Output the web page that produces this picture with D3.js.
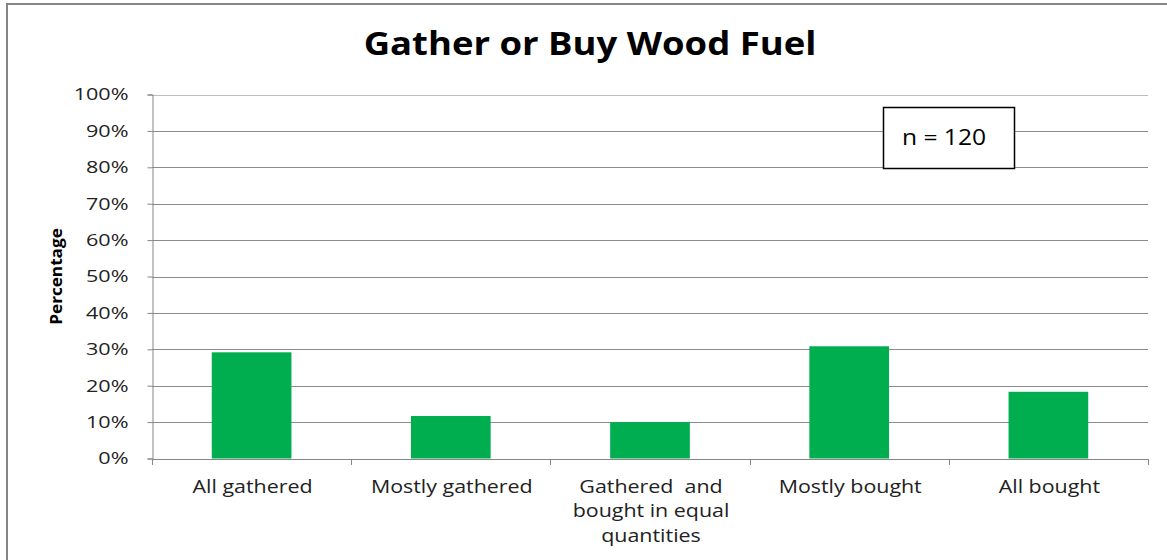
<!DOCTYPE html>
<html><head><meta charset="utf-8">
<script src="https://d3js.org/d3.v7.min.js"></script>
<style>body{margin:0;background:#fff;} svg{display:block;}</style>
</head><body>
<script>
const categories = [["All gathered"], ["Mostly gathered"], ["Gathered  and", "bought in equal", "quantities"], ["Mostly bought"], ["All bought"]];
const values = [29.17, 11.67, 10.0, 30.83, 18.33];
const yTicks = [0, 10, 20, 30, 40, 50, 60, 70, 80, 90, 100];
const title = "Gather or Buy Wood Fuel";
const yLabel = "Percentage";
const note = "n = 120";

(function () {
const W = 1167, H = 560;
const font = "'Open Sans', sans-serif";
const svg = d3.select("body").append("svg").attr("width", W).attr("height", H);
svg.append("rect").attr("x", 7).attr("y", 4).attr("width", W).attr("height", H)
  .attr("fill", "#fff").attr("stroke", "#868686").attr("stroke-width", 2);

const pLeft = 152, pRight = 1148, pTop = 94.5, pBottom = 458.5;
const keys = categories.map((d, i) => i);
const x = d3.scaleBand().domain(keys).range([pLeft, pRight]).paddingInner(0.6).paddingOuter(0.3);
const y = d3.scaleLinear().domain([0, 100]).range([pBottom, pTop]);

svg.append("g").selectAll("line").data(yTicks.filter(t => t > 0)).join("line")
  .attr("x1", pLeft).attr("x2", pRight)
  .attr("y1", d => Math.round(y(d)) + 0.5).attr("y2", d => Math.round(y(d)) + 0.5)
  .attr("stroke", d => d === 100 ? "#bdbdbd" : "#8c8c8c").attr("stroke-width", 1);

svg.append("g").selectAll("rect").data(values).join("rect")
  .attr("x", (d, i) => x(i)).attr("width", x.bandwidth())
  .attr("y", d => y(d)).attr("height", d => y(0) - y(d))
  .attr("fill", "#00ae4f");

const yAxis = d3.axisLeft(y).tickValues(yTicks).tickFormat(d => d + "%").tickSize(5).tickPadding(19);
const gy = svg.append("g").attr("transform", `translate(${pLeft + 0.5},0)`).call(yAxis);
gy.select(".domain").attr("stroke", "#868686");
gy.selectAll(".tick line").attr("stroke", "#868686");
gy.selectAll(".tick text").attr("x", 0).attr("transform", "translate(-24,0) scale(1.27,1)")
  .attr("font-family", font).attr("font-size", 17).attr("fill", "#222");

const boundaries = d3.range(categories.length + 1).map(i => i < categories.length ? x(i) - x.step() * x.paddingOuter() : pRight);
svg.append("line").attr("x1", pLeft).attr("x2", pRight).attr("y1", Math.round(pBottom) + 0.5).attr("y2", Math.round(pBottom) + 0.5)
  .attr("stroke", "#868686");
svg.append("g").selectAll("line").data(boundaries).join("line")
  .attr("x1", d => Math.round(d) + 0.5).attr("x2", d => Math.round(d) + 0.5)
  .attr("y1", Math.round(pBottom)).attr("y2", Math.round(pBottom) + 6).attr("stroke", "#868686");

const labs = svg.append("g").selectAll("text").data(categories).join("text")
  .attr("text-anchor", "middle").attr("font-family", font).attr("font-size", 18).attr("fill", "#222")
  .attr("transform", (d, i) => `translate(${x(i) + x.bandwidth() / 2 + 1},493) scale(1.19,1)`);
labs.selectAll("tspan").data(d => d).join("tspan")
  .attr("x", 0).attr("dy", (d, i) => i === 0 ? 0 : 24.5).attr("xml:space", "preserve").text(d => d);

svg.append("text").attr("transform", "translate(590,55) scale(1.14,1)").attr("text-anchor", "middle")
  .attr("font-family", font).attr("font-weight", "bold").attr("font-size", 32)
  .attr("fill", "#000").text(title);

svg.append("text").attr("transform", `translate(62,${(pTop + pBottom) / 2}) rotate(-90) scale(1.04,1)`)
  .attr("text-anchor", "middle").attr("font-family", font).attr("font-weight", "bold")
  .attr("font-size", 16.5).attr("fill", "#000").text(yLabel);

svg.append("rect").attr("x", 883.5).attr("y", 107.5).attr("width", 131).attr("height", 61)
  .attr("fill", "#fff").attr("stroke", "#000").attr("stroke-width", 1.5);
svg.append("text").attr("transform", "translate(944,145) scale(1.12,1)").attr("text-anchor", "middle")
  .attr("font-family", font).attr("font-size", 22).attr("fill", "#000").text(note);
})();
</script>
</body></html>
